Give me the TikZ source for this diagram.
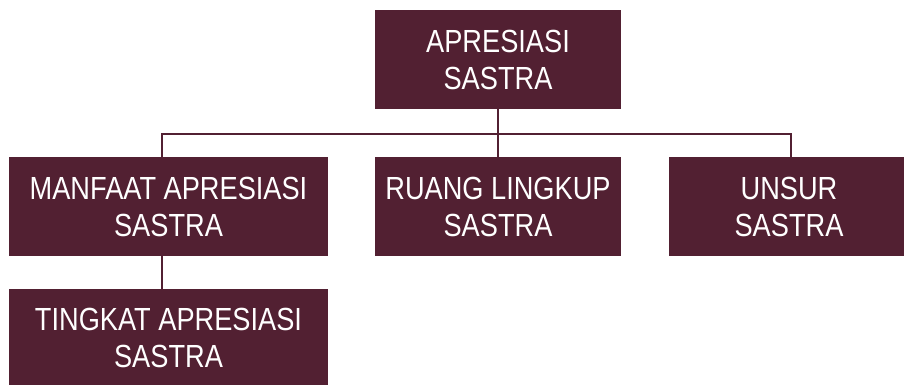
\documentclass[tikz,border=0pt]{standalone}
\usepackage{fontspec}
\setmainfont[FakeStretch=0.85]{Liberation Sans}
\definecolor{boxmaroon}{HTML}{522032}
\begin{document}
\begin{tikzpicture}[x=1pt,y=-1pt,
  box/.style={fill=boxmaroon, text=white, inner sep=0pt, align=center,
    minimum height=99pt, font=\fontsize{32}{37}\selectfont},
  link/.style={draw=boxmaroon, line width=2pt}]
\useasboundingbox (0,0) rectangle (904,385);
\node[box, minimum width=246pt] (top) at (498,59.5) {APRESIASI\\SASTRA};
\node[box, minimum width=319pt] (box1) at (168.5,206.5) {MANFAAT APRESIASI\\SASTRA};
\node[box, minimum width=246pt] (box2) at (498,206.5) {RUANG LINGKUP\\SASTRA};
\node[box, minimum width=240pt] (box3) at (789,206.5) {UNSUR\\SASTRA};
\node[box, minimum width=319pt, minimum height=98pt] (box4) at (168.5,338) {TINGKAT APRESIASI\\SASTRA};
\coordinate (bus) at (498,133.5);
\coordinate (b1top) at (161.5,157);
\coordinate (b3top) at (791,157);
\draw[link] (top.south) -- (box2.north);
\draw[link] (b1top) -- (b1top |- bus) -- (b3top |- bus) -- (b3top);
\draw[link] (b1top |- box1.south) -- (b1top |- box4.north);
\end{tikzpicture}
\end{document}
